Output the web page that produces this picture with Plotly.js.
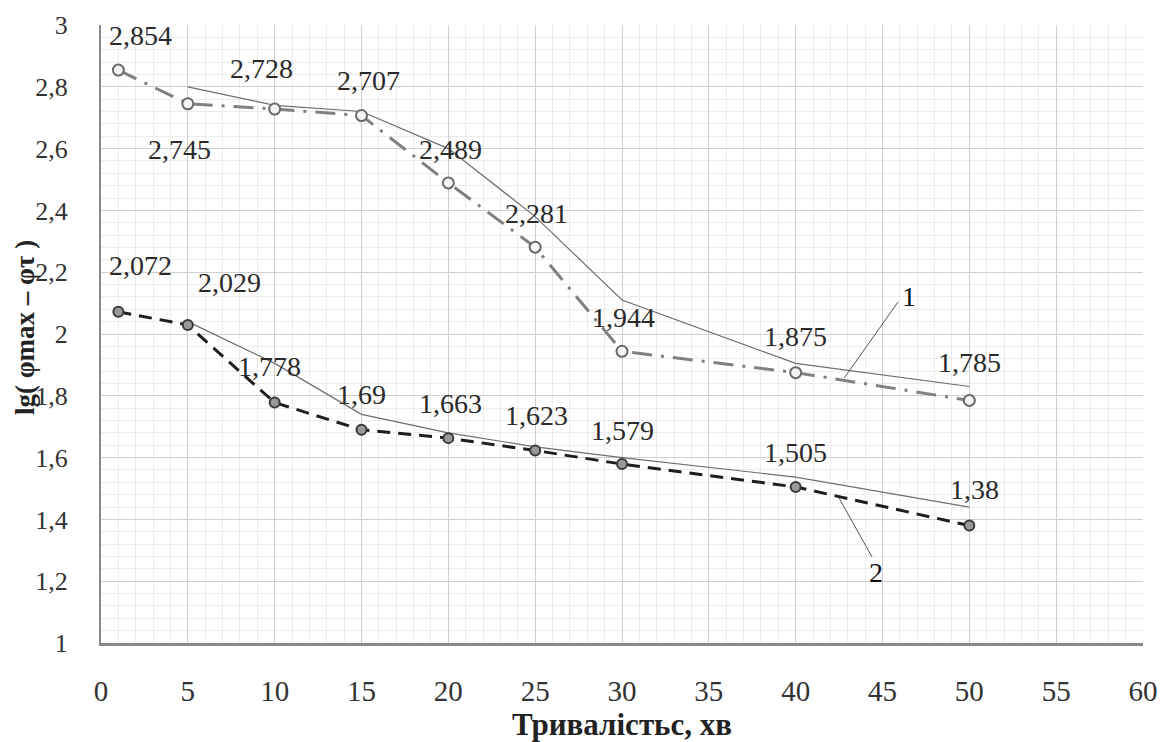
<!DOCTYPE html>
<html>
<head>
<meta charset="utf-8">
<script src="https://cdn.plot.ly/plotly-3.0.1.min.js"></script>
<style>
  html, body { margin: 0; padding: 0; background: #fff; }
  #chart { width: 1171px; height: 742px; }
</style>
</head>
<body>
<div id="chart"></div>
<script>
// Duration of the process, minutes
const minutes = [1, 5, 10, 15, 20, 25, 30, 40, 50];

// Curve 1 and curve 2: measured lg(φmax – φτ)
const curve1 = [2.854, 2.745, 2.728, 2.707, 2.489, 2.281, 1.944, 1.875, 1.785];
const curve2 = [2.072, 2.029, 1.778, 1.69, 1.663, 1.623, 1.579, 1.505, 1.38];

// Smoothed guide lines drawn over each curve
const guideMinutes = [5, 10, 15, 20, 25, 30, 40, 50];
const guide1 = [2.80, 2.74, 2.72, 2.60, 2.38, 2.11, 1.905, 1.83];
const guide2 = [2.04, 1.905, 1.74, 1.68, 1.635, 1.60, 1.537, 1.44];

// Curve number callouts: [label, textX, textY, lineFromX, lineFromY, lineToX, lineToY]
const callout1 = ['1', 46.5, 2.12, 45.9, 2.104, 42.8, 1.858];
const callout2 = ['2', 44.6, 1.227, 44.4, 1.278, 42.5, 1.469];

// Axis captions
const xTitle = 'Тривалістьс, хв';
const yTitle = 'lg( φmax – φτ )';

// Pixel offsets of the value labels relative to their points
const shift1 = [[22, 35], [-8, -46], [-13, 41], [7, 35], [2, 33], [1, 34], [1, 34], [0, 36], [0, 38]];
const shift2 = [[22, 46], [42, 43], [-5, 36], [0, 35], [2, 35], [1, 35], [0, 34], [0, 34], [5, 36]];

const serif = "'Liberation Serif', 'Times New Roman', serif";
const fmt = v => String(v).replace('.', ',');

const traces = [
  {
    x: guideMinutes, y: guide1, mode: 'lines', type: 'scatter',
    line: { color: '#6e6e6e', width: 1.2 }, hoverinfo: 'skip', showlegend: false
  },
  {
    x: guideMinutes, y: guide2, mode: 'lines', type: 'scatter',
    line: { color: '#6e6e6e', width: 1.2 }, hoverinfo: 'skip', showlegend: false
  },
  {
    x: minutes, y: curve1, mode: 'lines+markers', type: 'scatter', name: '1',
    line: { color: '#808080', width: 3, dash: '20px,9px,3px,9px' },
    marker: { symbol: 'circle', size: 11, color: '#f4f4f4', line: { color: '#6a6a6a', width: 2 } },
    showlegend: false
  },
  {
    x: minutes, y: curve2, mode: 'lines+markers', type: 'scatter', name: '2',
    line: { color: '#1e1e1e', width: 3, dash: '13px,8px' },
    marker: { symbol: 'circle', size: 10, color: '#9a9a9a', line: { color: '#3a3a3a', width: 2 } },
    showlegend: false
  },
  {
    x: [callout1[3], callout1[5]], y: [callout1[4], callout1[6]], mode: 'lines', type: 'scatter',
    line: { color: '#555', width: 1 }, hoverinfo: 'skip', showlegend: false
  },
  {
    x: [callout2[3], callout2[5]], y: [callout2[4], callout2[6]], mode: 'lines', type: 'scatter',
    line: { color: '#555', width: 1 }, hoverinfo: 'skip', showlegend: false
  }
];

const annotations = [];
minutes.forEach((m, i) => {
  annotations.push({
    x: m, y: curve1[i], text: fmt(curve1[i]), showarrow: false,
    xshift: shift1[i][0], yshift: shift1[i][1],
    font: { family: serif, size: 28, color: '#2a2a2a' }
  });
  annotations.push({
    x: m, y: curve2[i], text: fmt(curve2[i]), showarrow: false,
    xshift: shift2[i][0], yshift: shift2[i][1],
    font: { family: serif, size: 28, color: '#2a2a2a' }
  });
});
[callout1, callout2].forEach(c => {
  annotations.push({
    x: c[1], y: c[2], text: c[0], showarrow: false,
    font: { family: serif, size: 28, color: '#111' }
  });
});
// Vertical axis caption, set close to the tick labels
annotations.push({
  xref: 'paper', yref: 'paper', x: 0, y: 0.5, xanchor: 'center', yanchor: 'middle',
  xshift: -76, yshift: 6, textangle: -90, showarrow: false,
  text: '<b>' + yTitle + '</b>',
  font: { family: serif, size: 27, color: '#222' }
});

const layout = {
  width: 1171, height: 742,
  margin: { l: 101, r: 28, t: 25, b: 99 },
  paper_bgcolor: '#fff', plot_bgcolor: '#fff',
  separators: ', ',
  showlegend: false,
  font: { family: serif },
  xaxis: {
    range: [0, 60], dtick: 5, tick0: 0,
    showgrid: true, gridcolor: '#cfcfcf', gridwidth: 1,
    minor: { dtick: 1, showgrid: true, gridcolor: '#ececec', gridwidth: 1 },
    zeroline: false,
    showline: true, linecolor: '#8a8a8a', linewidth: 3,
    ticks: 'outside', ticklen: 20, tickcolor: 'rgba(0,0,0,0)',
    tickfont: { family: serif, size: 29, color: '#333' },
    title: { text: '<b>' + xTitle + '</b>', font: { family: serif, size: 31, color: '#222' }, standoff: 4 },
    automargin: false
  },
  yaxis: {
    range: [1, 3], dtick: 0.2, tick0: 1,
    showgrid: true, gridcolor: '#cfcfcf', gridwidth: 1,
    minor: { dtick: 0.04, showgrid: true, gridcolor: '#ececec', gridwidth: 1 },
    zeroline: false,
    showline: true, linecolor: '#8a8a8a', linewidth: 2,
    ticks: 'outside', ticklen: 26, tickcolor: 'rgba(0,0,0,0)',
    tickfont: { family: serif, size: 26, color: '#333' },
    automargin: false
  },
  annotations: annotations
};

Plotly.newPlot('chart', traces, layout, { staticPlot: true, displayModeBar: false });
</script>
</body>
</html>
